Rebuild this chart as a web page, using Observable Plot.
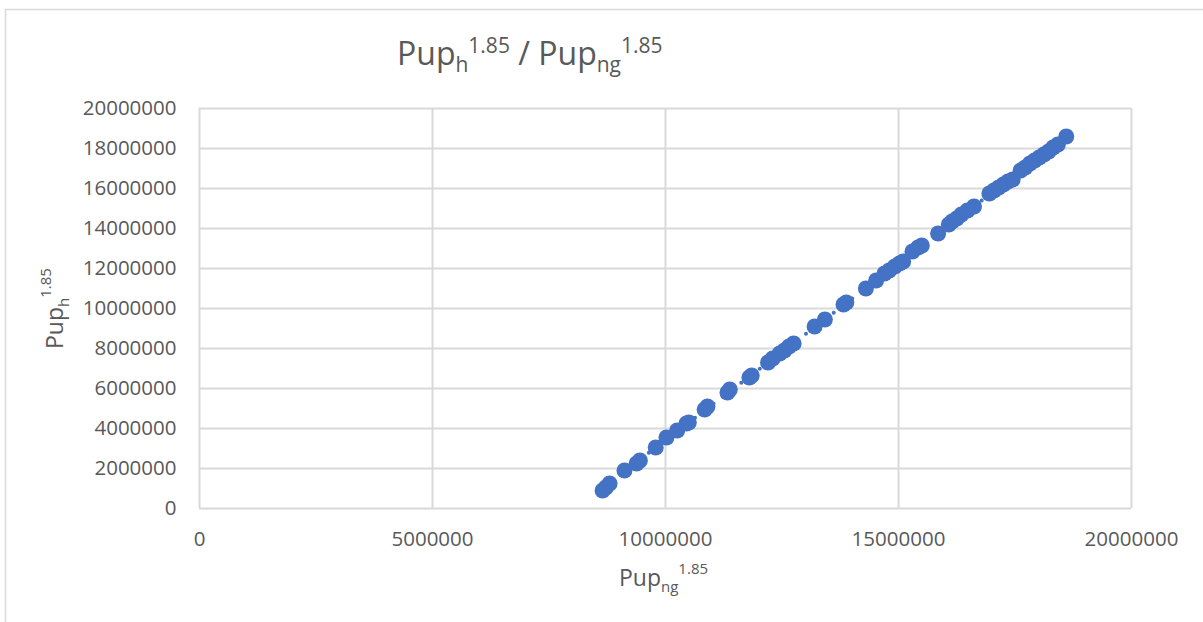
<!DOCTYPE html>
<html><head><meta charset="utf-8">
<script src="https://cdn.jsdelivr.net/npm/d3@7"></script>
<script src="https://cdn.jsdelivr.net/npm/@observablehq/plot@0.6"></script>
<style>body{margin:0;background:#fff;overflow:hidden;} svg{display:block;}</style>
</head><body><div id="chart"></div>
<script>
// Pup_ng^1.85 (x) values
const pupNg = [8650000, 8720000, 8800000, 9120000, 9380000, 9450000, 9790000, 10020000, 10250000, 10450000,
  10500000, 10840000, 10900000, 11330000, 11380000, 11800000, 11850000, 12200000, 12300000, 12450000,
  12550000, 12650000, 12750000, 13200000, 13420000, 13820000, 13880000, 14300000, 14520000, 14700000,
  14800000, 14920000, 15020000, 15100000, 15300000, 15420000, 15500000, 15850000, 16080000, 16150000,
  16250000, 16350000, 16480000, 16620000, 16950000, 17050000, 17150000, 17250000, 17350000, 17450000,
  17620000, 17720000, 17820000, 17920000, 18020000, 18120000, 18220000, 18320000, 18420000, 18600000];
// Pup_h^1.85 (y) values
const pupH = [900000, 1050000, 1250000, 1900000, 2250000, 2400000, 3050000, 3550000, 3900000, 4250000,
  4300000, 4950000, 5100000, 5800000, 5950000, 6550000, 6650000, 7300000, 7500000, 7750000,
  7900000, 8100000, 8250000, 9100000, 9450000, 10200000, 10300000, 11000000, 11400000, 11750000,
  11900000, 12100000, 12250000, 12350000, 12850000, 13050000, 13150000, 13750000, 14200000, 14350000,
  14500000, 14700000, 14900000, 15100000, 15750000, 15900000, 16050000, 16200000, 16350000, 16450000,
  16900000, 17050000, 17250000, 17400000, 17550000, 17700000, 17850000, 18050000, 18200000, 18600000];
const xTicks = [0, 5000000, 10000000, 15000000, 20000000];
const yTicks = [0, 2000000, 4000000, 6000000, 8000000, 10000000, 12000000, 14000000, 16000000, 18000000, 20000000];

const data = pupNg.map((x, i) => ({x, y: pupH[i]}));
const blue = "#4472C4";
const grid = "#d9d9d9";
const fmt = d3.format("d");

const chart = Plot.plot({
  width: 1203, height: 622,
  marginLeft: 199, marginRight: 72, marginTop: 108, marginBottom: 114,
  style: {fontFamily: "'Open Sans', sans-serif", fontSize: "20.5px", color: "#595959", background: "#fff"},
  x: {domain: [0, 20000000]},
  y: {domain: [0, 20000000]},
  marks: [
    Plot.gridX(xTicks, {stroke: grid, strokeOpacity: 1, strokeWidth: 2}),
    Plot.gridY(yTicks, {stroke: grid, strokeOpacity: 1, strokeWidth: 2}),
    Plot.axisX(xTicks, {tickSize: 0, tickPadding: 23, tickFormat: fmt, label: null, fill: "#595959"}),
    Plot.axisY(yTicks, {tickSize: 0, tickPadding: 23, tickFormat: fmt, label: null, fill: "#595959"}),
    Plot.linearRegressionY(data, {x: "x", y: "y", stroke: blue, strokeWidth: 4, strokeDasharray: "0 11.6", strokeLinecap: "round", ci: 0}),
    Plot.dot(data, {x: "x", y: "y", r: 8, fill: blue})
  ]
});

const svg = d3.select(chart);
svg.insert("rect", ":first-child")
  .attr("x", 5.5).attr("y", 9.5).attr("width", 1300).attr("height", 700)
  .attr("fill", "#fff").attr("stroke", grid).attr("stroke-width", 1.5);

const ff = "'Open Sans', sans-serif";
// Title
const t = svg.append("text").attr("x", 397).attr("y", 65).attr("text-anchor", "start")
  .attr("font-family", ff).attr("font-size", 32).attr("fill", "#595959");
t.append("tspan").text("Pup");
t.append("tspan").attr("font-size", 21).attr("dy", 7).text("h");
t.append("tspan").attr("font-size", 21).attr("dy", -19).text("1.85");
t.append("tspan").attr("dy", 12).text(" / Pup");
t.append("tspan").attr("font-size", 21).attr("dy", 7).text("ng");
t.append("tspan").attr("font-size", 21).attr("dy", -19).text("1.85");

// X axis title
const xl = svg.append("text").attr("x", 619).attr("y", 586).attr("text-anchor", "start")
  .attr("font-family", ff).attr("font-size", 23).attr("fill", "#595959");
xl.append("tspan").text("Pup");
xl.append("tspan").attr("font-size", 15).attr("dy", 6).text("ng");
xl.append("tspan").attr("font-size", 15).attr("dy", -18).text("1.85");

// Y axis title
const yl = svg.append("text").attr("transform", "translate(63,349) rotate(-90)").attr("text-anchor", "start")
  .attr("font-family", ff).attr("font-size", 23).attr("fill", "#595959");
yl.append("tspan").text("Pup");
yl.append("tspan").attr("font-size", 15).attr("dy", 6).text("h");
yl.append("tspan").attr("font-size", 15).attr("dy", -18).text("1.85");

document.getElementById("chart").appendChild(chart);
</script>
</body></html>
